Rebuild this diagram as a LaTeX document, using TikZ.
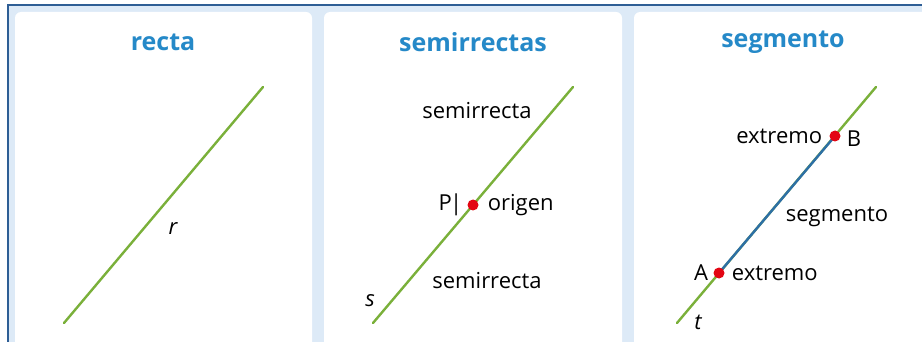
\documentclass[tikz,border=0pt]{standalone}
\usepackage{fontspec}
\setmainfont{Open Sans}
\usetikzlibrary{positioning}

\definecolor{framebg}{HTML}{DDEAF7}
\definecolor{frameline}{HTML}{2E5E95}
\definecolor{titleblue}{HTML}{2589C8}
\definecolor{linegreen}{HTML}{7AB03A}
\definecolor{segblue}{HTML}{2D6FA6}
\definecolor{dotred}{HTML}{E30613}

\begin{document}
\begin{tikzpicture}[x=1pt,y=-1pt,
    panel/.style={fill=white,rounded corners=6pt},
    line/.style={linegreen,line width=2.4pt,line cap=round},
    dot/.style={circle,fill=dotred,minimum size=11pt,inner sep=0pt},
    title/.style={titleblue,font=\fontsize{25}{28}\selectfont\bfseries},
    every node/.append style={font=\fontsize{22}{26}\selectfont,inner sep=1pt}]
  \clip (0,0) rectangle (922,342);
  \fill[framebg] (7,5) rectangle (930,350);
  \draw[frameline,line width=2pt] (7.5,350) -- (7.5,5.5) -- (930,5.5);
  \fill[panel] (15,12) rectangle (312,360);
  \fill[panel] (324,12) rectangle (622,360);
  \fill[panel] (634,12) rectangle (940,360);

  % recta
  \node[title] (recta) at (163,42) {recta};
  \coordinate (r0) at (64,323);
  \coordinate (r1) at (263,87);
  \draw[line] (r0) -- (r1);
  \node (r) at (173,229) {\itshape r};

  % semirrectas
  \node[title] (semi) at (473,42) {semirrectas};
  \coordinate (s0) at (373,323);
  \coordinate (s1) at (573,87);
  \draw[line] (s0) -- (s1);
  \node[dot] (P) at (473,205) {};
  \node[left=4pt of P] (Plab) {P\kern-2pt|};
  \node[right=8pt of P] (orig) {origen};
  \node (semiA) at (477,111) {semirrecta};
  \node (semiB) at (487,281) {semirrecta};
  \node (s) at (370,301) {\itshape s};

  % segmento
  \node[title] (seg) at (783,42) {segmento};
  \coordinate (t0) at (677,323);
  \coordinate (t1) at (876,87);
  \draw[line] (t0) -- (t1);
  \coordinate (a) at (719,273);
  \coordinate (b) at (835,136);
  \draw[segblue,line width=2.4pt] (a) -- (b);
  \node[dot] (A) at (a) {};
  \node[dot] (B) at (b) {};
  \node[left=4pt of A] (Alab) {A};
  \node[right=6pt of A] (extA) {extremo};
  \node[left=6pt of B] (extB) {extremo};
  \node[right=5pt of B,yshift=-3pt] (Blab) {B};
  \node (segl) at (837,217) {segmento};
  \node (t) at (698,322) {\itshape t};
\end{tikzpicture}
\end{document}
